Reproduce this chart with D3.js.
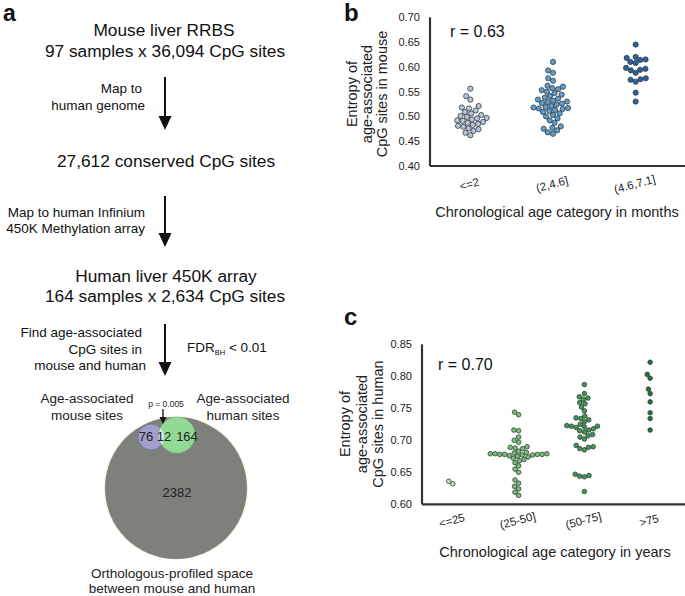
<!DOCTYPE html>
<html><head><meta charset="utf-8">
<script src="https://cdn.jsdelivr.net/npm/d3@7/dist/d3.min.js"></script>
<style>body{margin:0;background:#fff}svg{display:block;font-family:"Liberation Sans",Arial,sans-serif}</style>
</head><body><svg id="c" width="685" height="596"></svg>
<script>
// ---------- DATA ----------
const mouseCategories = ["<=2", "(2,4.6]", "(4.6,7.1]"];
const mouseTicks = [0.40, 0.45, 0.50, 0.55, 0.60, 0.65, 0.70];
const mouseG1 = [0.556,0.541,0.534,0.521,0.518,0.516,0.512,0.509,0.506,0.503,0.501,0.499,0.497,0.496,0.494,0.492,0.491,0.489,0.487,0.485,0.483,0.481,0.479,0.476,0.474,0.471,0.467,0.462];
const mouseG2 = [0.610,0.593,0.588,0.577,0.572,0.562,0.560,0.557,0.555,0.553,0.550,0.547,0.544,0.541,0.538,0.536,0.534,0.532,0.530,0.529,0.527,0.526,0.524,0.521,0.519,0.518,0.517,0.516,0.515,0.513,0.511,0.509,0.506,0.503,0.500,0.496,0.492,0.487,0.480,0.477,0.475,0.472,0.468,0.465];
const mouseG3 = [0.645,0.620,0.618,0.615,0.614,0.610,0.608,0.598,0.596,0.594,0.593,0.588,0.577,0.575,0.574,0.570,0.548,0.530];
const mouseR = "r = 0.63";

const humanCategories = ["<=25", "(25-50]", "(50-75]", ">75"];
const humanTicks = [0.60, 0.65, 0.70, 0.75, 0.80, 0.85];
const humanG1 = [0.636, 0.632];
const humanG2 = [0.744,0.740,0.716,0.715,0.705,0.700,0.697,0.690,0.689,0.688,0.687,0.683,0.681,0.680,0.679,0.679,0.679,0.678,0.678,0.678,0.678,0.677,0.677,0.676,0.675,0.674,0.672,0.670,0.668,0.665,0.660,0.655,0.650,0.638,0.633,0.628,0.624,0.619,0.614];
const humanG3 = [0.787,0.773,0.768,0.766,0.764,0.759,0.757,0.752,0.746,0.738,0.735,0.734,0.732,0.729,0.725,0.723,0.722,0.722,0.721,0.720,0.718,0.716,0.715,0.713,0.709,0.707,0.705,0.702,0.692,0.690,0.689,0.687,0.685,0.647,0.645,0.644,0.643,0.620];
const humanG4 = [0.822,0.803,0.797,0.780,0.773,0.760,0.743,0.734,0.716];
const humanR = "r = 0.70";

const vennLabels = ["76", "12", "164", "2382"];
const vennRadii = [13, 18, 71];

// ---------- STYLE ----------
const mouseColors = ["#b3c6dc", "#5b9fd0", "#2563a3"];
const humanColors = ["#c2e6b8", "#74c476", "#3a9c52", "#1d7535"];
const svg = d3.select("#c");
const font = '"Liberation Sans",Arial,sans-serif';
const BIG = 17.3, SMALL = 13.5;

function txt(g, x, y, s, size, anchor = "middle", extra = {}) {
  const t = g.append("text").attr("x", x).attr("y", y).attr("font-size", size)
    .attr("text-anchor", anchor).attr("fill", extra.fill || "#111").text(s);
  if (extra.weight) t.attr("font-weight", extra.weight);
  return t;
}
function arrow(g, x, y1, y2) {
  g.append("line").attr("x1", x).attr("x2", x).attr("y1", y1).attr("y2", y2 - 12)
    .attr("stroke", "#111").attr("stroke-width", 2);
  g.append("path").attr("d", `M${x-6.5},${y2-14}L${x+6.5},${y2-14}L${x},${y2}Z`).attr("fill", "#111");
}

// ---------- PANEL A ----------
const A = svg.append("g");
txt(A, 3, 21, "a", 23, "start", {weight: "bold"});
txt(A, 164, 36, "Mouse liver RRBS", BIG);
txt(A, 165, 57, "97 samples x 36,094 CpG sites", BIG);
arrow(A, 165, 77, 130);
txt(A, 142, 93, "Map to", SMALL, "end");
txt(A, 145, 110, "human genome", SMALL, "end");
txt(A, 166, 167, "27,612 conserved CpG sites", BIG);
arrow(A, 165, 196, 247);
txt(A, 145, 217, "Map to human Infinium", SMALL, "end");
txt(A, 145, 233, "450K Methylation array", SMALL, "end");
txt(A, 166, 282, "Human liver 450K array", BIG);
txt(A, 165, 302, "164 samples x 2,634 CpG sites", BIG);
arrow(A, 165, 324, 376);
txt(A, 142, 337, "Find age-associated", SMALL, "end");
txt(A, 142, 354, "CpG sites in", SMALL, "end");
txt(A, 146, 370, "mouse and human", SMALL, "end");
const fdr = A.append("text").attr("x", 187).attr("y", 352).attr("font-size", SMALL).attr("fill", "#111");
fdr.append("tspan").text("FDR");
fdr.append("tspan").attr("font-size", 7.5).attr("dy", 3).text("BH");
fdr.append("tspan").attr("dy", -3).text(" < 0.01");

// Venn
const big = {x: 176, y: 488, r: vennRadii[2]};
const mo = {x: 151, y: 437, r: vennRadii[0]};
const hu = {x: 177, y: 435, r: vennRadii[1]};
A.append("circle").attr("cx", big.x).attr("cy", big.y).attr("r", big.r + 1).attr("fill", "#f6f1d8");
A.append("circle").attr("cx", big.x).attr("cy", big.y).attr("r", big.r).attr("fill", "#7e807b");
A.append("circle").attr("cx", mo.x).attr("cy", mo.y).attr("r", mo.r).attr("fill", "#a0a0cb").attr("stroke", "#6f6fa0").attr("stroke-width", 0.8);
A.append("circle").attr("cx", hu.x).attr("cy", hu.y).attr("r", hu.r).attr("fill", "#92d993").attr("stroke", "#7cc17d").attr("stroke-width", 0.6);
const defs = svg.append("defs");
defs.append("clipPath").attr("id", "clipMo").append("circle").attr("cx", mo.x).attr("cy", mo.y).attr("r", mo.r);
A.append("circle").attr("cx", hu.x).attr("cy", hu.y).attr("r", hu.r).attr("fill", "#cde9f0").attr("clip-path", "url(#clipMo)");
txt(A, 146, 441, vennLabels[0], 13, "middle", {fill: "#222"});
txt(A, 164, 441, vennLabels[1], 13, "middle", {fill: "#222"});
txt(A, 187, 441, vennLabels[2], 13, "middle", {fill: "#222"});
txt(A, 177, 497, vennLabels[3], 13, "middle", {fill: "#222"});
txt(A, 87, 403, "Age-associated", SMALL, "middle", {fill: "#222"});
txt(A, 87, 420, "mouse sites", SMALL, "middle", {fill: "#222"});
txt(A, 243, 403, "Age-associated", SMALL, "middle", {fill: "#222"});
txt(A, 243, 420, "human sites", SMALL, "middle", {fill: "#222"});
txt(A, 166, 407, "p = 0.005", 8.5, "middle", {fill: "#222"});
A.append("line").attr("x1", 163).attr("x2", 163).attr("y1", 409).attr("y2", 418).attr("stroke", "#111").attr("stroke-width", 1.3);
A.append("path").attr("d", "M159.5,417L166.5,417L163,424Z").attr("fill", "#111");
txt(A, 172, 578, "Orthologous-profiled space", SMALL, "middle", {fill: "#222"});
txt(A, 172, 593, "between mouse and human", SMALL, "middle", {fill: "#222"});

// ---------- beeswarm layout ----------
function swarm(values, cx, y, r, pad) {
  const D = 2 * r + pad;
  const pts = values.map(v => ({v, y: y(v)})).sort((a, b) => a.v - b.v);
  const placed = [];
  for (const p of pts) {
    const cands = [0];
    for (const q of placed) {
      const dy = p.y - q.y;
      if (Math.abs(dy) < D) {
        const dx = Math.sqrt(D * D - dy * dy);
        cands.push(q.x - cx + dx, q.x - cx - dx);
      }
    }
    cands.sort((a, b) => Math.abs(a) - Math.abs(b) || a - b);
    for (const c of cands) {
      const x = cx + c;
      if (placed.every(q => (q.x - x) ** 2 + (q.y - p.y) ** 2 >= D * D - 1e-6)) { p.x = x; break; }
    }
    placed.push(p);
  }
  return placed;
}

function panel(opts) {
  const g = svg.append("g");
  const y = d3.scaleLinear().domain([opts.ticks[0], opts.ticks[opts.ticks.length - 1]]).range([opts.y0, opts.y1]);
  const x = d3.scaleBand().domain(opts.cats).range(opts.xr);
  const ya = g.append("g").attr("transform", `translate(${opts.ax},0)`)
    .call(d3.axisLeft(y).tickValues(opts.ticks).tickFormat(d3.format(".2f")).tickSize(0).tickPadding(10));
  const xa = g.append("g").attr("transform", `translate(0,${opts.y0})`)
    .call(d3.axisBottom(x).tickSize(0).tickPadding(0));
  [ya, xa].forEach(a => { a.selectAll("text").attr("font-family", font).attr("font-size", 11).attr("fill", "#222"); });
  ya.select(".domain").attr("d", `M0,${opts.y0}V${opts.y1}`);
  xa.select(".domain").attr("d", `M${opts.ax},0H685`);
  [ya, xa].forEach(a => a.select(".domain").attr("stroke", "#333").attr("stroke-width", 2.2));
  xa.selectAll(".tick text").attr("y", 0).attr("dy", 0)
    .attr("transform", `translate(0,${opts.tickDy}) rotate(-15)`).attr("text-anchor", "middle").attr("font-size", 11.5);
  opts.groups.forEach((vals, i) => {
    const cx = x(opts.cats[i]) + x.bandwidth() / 2;
    const pts = swarm(vals, cx, y, opts.r, 0.2);
    g.selectAll(null).data(pts).join("circle")
      .attr("cx", d => d.x).attr("cy", d => d.y).attr("r", opts.r)
      .attr("fill", opts.colors[i]).attr("stroke", "#3a3a3a").attr("stroke-width", 0.8);
  });
  txt(g, opts.rx, opts.ry, opts.rtext, 16, "start");
  txt(g, opts.titleX, opts.titleY, opts.xtitle, 14.5, "middle", {fill: "#222"});
  opts.ytitle.forEach((s, i) => {
    g.append("text").attr("transform", `translate(${opts.ytx[i]},${opts.ytc}) rotate(-90)`)
      .attr("text-anchor", "middle").attr("font-size", 14.5).attr("fill", "#222").text(s);
  });
  txt(g, opts.lx, opts.ly, opts.letter, 24, "start", {weight: "bold"});
}

panel({
  cats: mouseCategories, ticks: mouseTicks, groups: [mouseG1, mouseG2, mouseG3], colors: mouseColors,
  y0: 166, y1: 17.3, xr: [429, 677], ax: 430, r: 2.6, tickDy: 22,
  rtext: mouseR, rx: 450, ry: 37,
  xtitle: "Chronological age category in months", titleX: 557, titleY: 217,
  ytitle: ["Entropy of", "age-associated", "CpG sites in mouse"], ytx: [357, 372, 387], ytc: 94,
  letter: "b", lx: 344, ly: 21
});
panel({
  cats: humanCategories, ticks: humanTicks, groups: [humanG1, humanG2, humanG3, humanG4], colors: humanColors,
  y0: 504.3, y1: 344.3, xr: [420, 683], ax: 422, r: 2.3, tickDy: 20,
  rtext: humanR, rx: 438, ry: 370,
  xtitle: "Chronological age category in years", titleX: 555, titleY: 557,
  ytitle: ["Entropy of", "age-associated", "CpG sites in human"], ytx: [350, 367, 383], ytc: 424,
  letter: "c", lx: 344, ly: 325
});
</script></body></html>
